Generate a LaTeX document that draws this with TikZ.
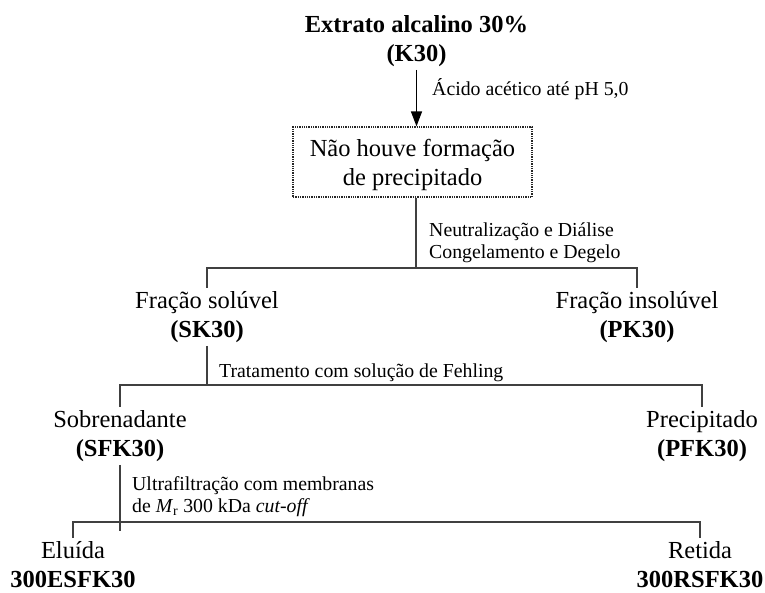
\documentclass[tikz,border=0pt]{standalone}
\usepackage{fontspec}
\setmainfont{Liberation Serif}
\usetikzlibrary{arrows.meta}
\newcommand\mainsz{\fontsize{24.5}{29}\selectfont}
\newcommand\lblsz{\fontsize{19.8}{22}\selectfont}
\newcommand\twol[2]{\begin{tabular}[t]{@{}c@{}}#1\\#2\end{tabular}}
\newcommand\twoll[2]{\begin{tabular}[t]{@{}l@{}}#1\\#2\end{tabular}}
\tikzset{
  stage/.style={inner sep=0pt, anchor=base, font=\mainsz},
  lbl/.style={inner sep=0pt, anchor=base west, font=\lblsz},
  tree/.style={draw=black!75, line width=1.1pt},
  arr/.style={draw=black, line width=1.4pt, -{Triangle[width=11pt,length=15pt]}},
  boxst/.style={draw=black!85, densely dotted, line width=1.3pt, minimum width=239pt,
    minimum height=70pt, inner sep=0pt, font=\mainsz}
}
\begin{document}
\begin{tikzpicture}[x=1pt,y=-1pt]
\useasboundingbox (0,0) rectangle (765,592);
% stages
\node[stage] (k30) at (416.5,32) {\twol{\textbf{Extrato alcalino 30\%}}{\textbf{(K30)}}};
\node[boxst] (box) at (412.5,162) {\twol{\rule{0pt}{27pt}Não houve formação}{de precipitado}};
\node[lbl] (acid) at (432,95) {Ácido acético até pH 5,0};
\node[lbl] (neut) at (429,236) {\twoll{Neutralização e Diálise}{Congelamento e Degelo}};
\coordinate (hl1) at (416,268);
\node[stage] (sk) at (207,308) {\twol{Fração solúvel}{\textbf{(SK30)}}};
\node[stage] (pk) at (637,308) {\twol{Fração insolúvel}{\textbf{(PK30)}}};
\coordinate (hl2) at (207,385);
\node[lbl] (feh) at (219,377) {Tratamento com solução de Fehling};
\node[stage] (sob) at (120,427) {\twol{Sobrenadante}{\textbf{(SFK30)}}};
\node[stage] (pfk) at (702,427) {\twol{Precipitado}{\textbf{(PFK30)}}};
\coordinate (hl3) at (120,522);
\node[lbl] (ultra) at (132,490) {\twoll{Ultrafiltração com membranas}{de \textit{M}\textsubscript{r} 300 kDa \textit{cut-off}}};
\node[stage, text depth=29pt] (elu) at (73,558) {\twol{Eluída}{\textbf{300ESFK30}}};
\node[stage, text depth=29pt] (ret) at (700,558) {\twol{Retida}{\textbf{300RSFK30}}};
% connectors
\draw[arr] (k30.south) -- (k30.south |- box.north);
\draw[tree] (hl1 |- box.south) -- (hl1);
\draw[tree] (sk.north) |- (pk.north |- hl1) -- (pk.north);
\draw[tree] (sk.south) -- (hl2);
\draw[tree] (sob.north) |- (pfk.north |- hl2) -- (pfk.north);
\draw[tree] (sob.south) -- ([yshift=-9pt]hl3);
\draw[tree] (elu.north) |- (ret.north |- hl3) -- (ret.north);
\end{tikzpicture}
\end{document}
